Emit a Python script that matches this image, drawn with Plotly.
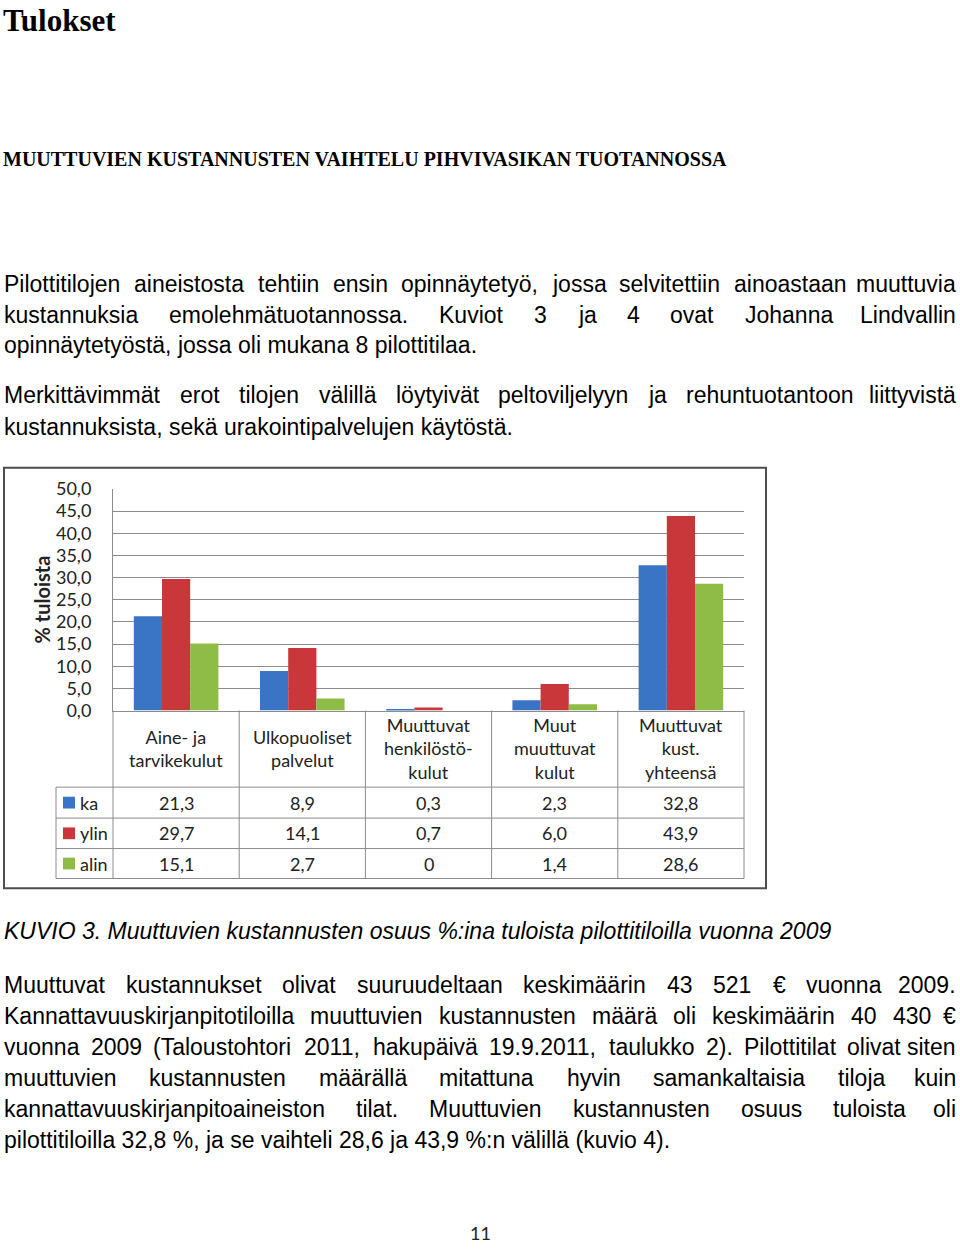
import plotly.graph_objects as go

# ---------------- data ----------------
categories = ["Aine- ja<br>tarvikekulut", "Ulkopuoliset<br>palvelut",
              "Muuttuvat<br>henkilöstö-<br>kulut", "Muut<br>muuttuvat<br>kulut",
              "Muuttuvat<br>kust.<br>yhteensä"]
series_names = ["ka", "ylin", "alin"]
ka = [21.3, 8.9, 0.3, 2.3, 32.8]
ylin = [29.7, 14.1, 0.7, 6.0, 43.9]
alin = [15.1, 2.7, 0.0, 1.4, 28.6]
y_ticks = [0, 5, 10, 15, 20, 25, 30, 35, 40, 45, 50]
y_ticktext = ["0,0", "5,0", "10,0", "15,0", "20,0", "25,0", "30,0", "35,0", "40,0", "45,0", "50,0"]
series_colors = ["#3a74c4", "#c9373a", "#8fbb47"]

title_text = "Tulokset"
heading_text = "MUUTTUVIEN KUSTANNUSTEN VAIHTELU PIHVIVASIKAN TUOTANNOSSA"
para_lines = [  # (text, justified, y-center px)
    ("Pilottitilojen aineistosta tehtiin ensin opinnäytetyö, jossa selvitettiin ainoastaan muuttuvia", True, 277),
    ("kustannuksia emolehmätuotannossa. Kuviot 3 ja 4 ovat Johanna Lindvallin", True, 308),
    ("opinnäytetyöstä, jossa oli mukana 8 pilottitilaa.", False, 339),
    ("Merkittävimmät erot tilojen välillä löytyivät peltoviljelyyn ja rehuntuotantoon liittyvistä", True, 390),
    ("kustannuksista, sekä urakointipalvelujen käytöstä.", False, 422),
    ("Muuttuvat kustannukset olivat suuruudeltaan keskimäärin 43 521 € vuonna 2009.", True, 990),
    ("Kannattavuuskirjanpitotiloilla muuttuvien kustannusten määrä oli keskimäärin 40 430 €", True, 1022),
    ("vuonna 2009 (Taloustohtori 2011, hakupäivä 19.9.2011, taulukko 2). Pilottitilat olivat siten", True, 1054),
    ("muuttuvien kustannusten määrällä mitattuna hyvin samankaltaisia tiloja kuin", True, 1085),
    ("kannattavuuskirjanpitoaineiston tilat. Muuttuvien kustannusten osuus tuloista oli", True, 1117),
    ("pilottitiloilla 32,8 %, ja se vaihteli 28,6 ja 43,9 %:n välillä (kuvio 4).", False, 1148),
]
caption_text = "KUVIO 3. Muuttuvien kustannusten osuus %:ina tuloista pilottitiloilla vuonna 2009"
page_number = "11"

# ---------------- page geometry ----------------
W, H = 960, 1253
def px(x):
    return x / W
def py(y):
    return 1 - y / H

PL, PR = 113, 744          # plot area x
PT, PB = 485.5, 711        # plot area y
TB = 882                   # table bottom
HDR = 789                  # header row bottom
ROWS = [789, 820.5, 851.5, 882]
LEG_L = 56
GRID = "#8c8c8c"
BODY_FONT = "Liberation Sans"
CHART_FONT = "Lato"
BODY_SIZE = 23
CH_SIZE = 18

# Arial / Liberation Sans advance widths (1/1000 em) for justification
AW = {}
for ch, w in zip("abcdefghijklmnopqrstuvwxyz",
                 [556, 556, 500, 556, 556, 278, 556, 556, 222, 222, 500, 222, 833,
                  556, 556, 556, 556, 333, 500, 278, 556, 500, 722, 500, 500, 500]):
    AW[ch] = w
for ch, w in zip("ABCDEFGHIJKLMNOPQRSTUVWXYZ",
                 [667, 667, 722, 722, 667, 611, 778, 722, 278, 500, 667, 556, 833,
                  722, 778, 667, 778, 722, 667, 611, 722, 667, 944, 667, 667, 611]):
    AW[ch] = w
AW.update({"ä": 556, "ö": 556, "å": 556, "Ä": 667, "Ö": 778, " ": 278, ".": 278,
           ",": 278, ":": 278, "(": 333, ")": 333, "%": 889, "€": 556, "-": 333})
for d in "0123456789":
    AW[d] = 556

def tw(s, size):
    return sum(AW.get(c, 556) for c in s) * size / 1000.0

annotations = []
shapes = []

def add_text(text, x, yc, size, family, color="#000000", xanchor="left", **kw):
    annotations.append(dict(text=text, x=px(x), y=py(yc), xref="paper", yref="paper",
                            xanchor=xanchor, yanchor="middle", showarrow=False,
                            font=dict(family=family, size=size, color=color), **kw))

def add_line(text, yc, justify, left=2, right=958):
    if not justify:
        add_text(text, left, yc, BODY_SIZE, BODY_FONT)
        return
    words = text.split(" ")
    widths = [tw(w, BODY_SIZE) for w in words]
    gap = (right - left - sum(widths)) / (len(words) - 1)
    x = left
    for i, (wd, wdw) in enumerate(zip(words, widths)):
        if i == len(words) - 1:
            add_text(wd, right, yc, BODY_SIZE, BODY_FONT, xanchor="right")
        else:
            add_text(wd, x, yc, BODY_SIZE, BODY_FONT)
        x += wdw + gap

# ---------------- figure ----------------
fig = go.Figure()
for name, vals, col in zip(series_names, [ka, ylin, alin], series_colors):
    fig.add_trace(go.Bar(x=categories, y=vals, name=name, marker=dict(color=col, line=dict(width=0)),
                         showlegend=False, hoverinfo="skip"))

# page text
add_text("<b>" + title_text + "</b>", 1, 9, 31, "Liberation Serif")
add_text("<b>" + heading_text + "</b>", 1, 150, 20, "Liberation Serif")
for text, just, yc in para_lines:
    add_line(text, yc, just)
add_text("<i>" + caption_text + "</i>", 2, 935, BODY_SIZE, BODY_FONT)
add_text(page_number, 480, 1243, 18, CHART_FONT, color="#222222", xanchor="center")

# chart outer border
shapes.append(dict(type="rect", xref="paper", yref="paper", x0=px(4), x1=px(766), y0=py(892), y1=py(464),
                   line=dict(color="#4d4d4d", width=2), fillcolor="rgba(0,0,0,0)", layer="below"))

# y-axis title
annotations.append(dict(text="<b>% tuloista</b>", x=px(42), y=py(598), xref="paper", yref="paper",
                        textangle=-90, showarrow=False, xanchor="center", yanchor="middle",
                        font=dict(family=CHART_FONT, size=20, color="#222222")))

# data table
ncat = len(categories)
cw = (PR - PL) / ncat
for k in range(ncat + 1):
    xk = PL + k * cw
    shapes.append(dict(type="line", xref="paper", yref="paper", x0=px(xk), x1=px(xk),
                       y0=py(PB), y1=py(TB), line=dict(color=GRID, width=1)))
for yr in ROWS:
    shapes.append(dict(type="line", xref="paper", yref="paper", x0=px(LEG_L), x1=px(PR),
                       y0=py(yr), y1=py(yr), line=dict(color=GRID, width=1)))
shapes.append(dict(type="line", xref="paper", yref="paper", x0=px(LEG_L), x1=px(LEG_L),
                   y0=py(HDR), y1=py(TB), line=dict(color=GRID, width=1)))

for cat in categories:
    annotations.append(dict(text=cat, x=cat, xref="x", y=py((PB + HDR) / 2), yref="paper",
                            showarrow=False, xanchor="center", yanchor="middle", align="center",
                            font=dict(family=CHART_FONT, size=CH_SIZE, color="#222222")))

def fmt(v):
    return "0" if v == 0 else f"{v:.1f}".replace(".", ",")

for r, (name, vals, col) in enumerate(zip(series_names, [ka, ylin, alin], series_colors)):
    yc = (ROWS[r] + ROWS[r + 1]) / 2
    shapes.append(dict(type="rect", xref="paper", yref="paper", x0=px(63), x1=px(75),
                       y0=py(yc + 6), y1=py(yc - 6), fillcolor=col, line=dict(width=0)))
    add_text(name, 78, yc, CH_SIZE, CHART_FONT, color="#222222")
    for cat, v in zip(categories, vals):
        annotations.append(dict(text=fmt(v), x=cat, xref="x", y=py(yc), yref="paper",
                                showarrow=False, xanchor="center", yanchor="middle",
                                font=dict(family=CHART_FONT, size=CH_SIZE, color="#222222")))

fig.update_layout(
    width=W, height=H, margin=dict(l=0, r=0, t=0, b=0),
    paper_bgcolor="white", plot_bgcolor="white",
    barmode="group", bargap=0.33, bargroupgap=0,
    xaxis=dict(domain=[px(PL), px(PR)], showticklabels=False, ticks="", showgrid=False,
               showline=True, linecolor=GRID, linewidth=1, zeroline=False, fixedrange=True),
    yaxis=dict(domain=[py(PB), py(PT)], range=[0, 50], tickvals=y_ticks, ticktext=y_ticktext,
               showgrid=True, gridcolor=GRID, gridwidth=1, showline=True, linecolor=GRID, linewidth=1,
               zeroline=False, ticks="", ticklabelstandoff=17,
               tickfont=dict(family=CHART_FONT, size=CH_SIZE, color="#222222"), fixedrange=True),
    annotations=annotations, shapes=shapes,
)

fig.write_html("out.html")
